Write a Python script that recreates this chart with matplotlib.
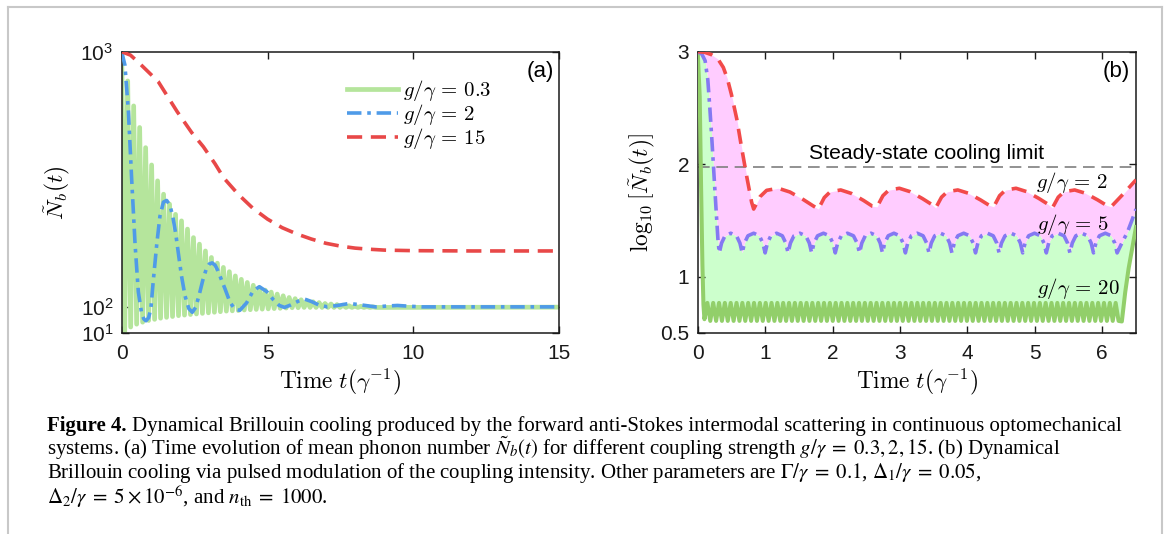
import numpy as np
import matplotlib
matplotlib.use("Agg")
import matplotlib.pyplot as plt
from matplotlib.lines import Line2D

plt.rcParams['font.family'] = ['Liberation Sans', 'DejaVu Sans']
plt.rcParams['mathtext.fontset'] = 'cm'
plt.rcParams['mathtext.rm'] = 'Liberation Sans'
plt.rcParams['mathtext.it'] = 'Liberation Sans:italic'
plt.rcParams['mathtext.bf'] = 'Liberation Sans:bold'

# ======================= panel (a) data =======================
a_xticks = [0, 5, 10, 15]
a_yticks = [10, 100, 1000]
a_yticklabels = [r'$10^1$', r'$10^2$', r'$10^3$']
a_labels = [r'$g/\gamma\,=\,0.3$', r'$g/\gamma\,=\,2$', r'$g/\gamma\,=\,15$']

# g/gamma = 0.3 : fast oscillation, period and successive extrema
g03_period = 0.205
g03_peaks = [1000, 897, 809, 733, 662, 601, 545, 498, 463, 427, 404, 375, 345, 322,
             298, 275, 255, 240, 225, 210, 198, 187, 177, 168, 160, 153, 146, 140,
             134, 130, 126, 122, 119, 116, 113, 111, 109, 107, 105, 104, 103, 102, 101]
g03_troughs = [12, 30, 40, 47, 53, 57, 61, 64, 67, 70, 72, 74, 76, 78, 80, 82, 84, 86,
               87, 88, 90, 91, 92, 93, 94, 95, 96, 97, 98, 98, 99, 99, 99, 99, 99, 99,
               99, 99, 99, 99, 99, 99, 99]
g03_tail_t = [15.0]
g03_tail_v = [100]

# g/gamma = 2
g2_t = [0, 0.11, 0.23, 0.34, 0.46, 0.57, 0.68, 0.76, 0.83, 0.92, 1.0, 1.08, 1.2, 1.31,
        1.43, 1.54, 1.65, 1.75, 1.85, 1.95, 2.05, 2.17, 2.3, 2.42, 2.54, 2.66, 2.78,
        2.9, 3.0, 3.1, 3.2, 3.3, 3.42, 3.54, 3.71, 3.88, 4.05, 4.28, 4.51, 4.72, 4.97,
        5.2, 5.4, 5.58, 5.8, 6.05, 6.28, 6.5, 6.75, 7.05, 7.4, 7.8, 8.2, 8.7, 9.1,
        9.45, 9.9, 10.3, 11.0, 15.0]
g2_v = [1000, 953, 789, 554, 319, 154, 80, 58, 52, 62, 95, 190, 320, 420,
        470, 476, 460, 420, 360, 284, 210, 140, 95, 82, 100, 145, 195,
        235, 252, 256, 248, 228, 196, 165, 118, 92, 89, 115, 158, 172, 155,
        126, 106, 99, 108, 121, 128, 120, 108, 101, 106, 113, 108, 101, 104,
        106, 103, 101, 101, 101]

# g/gamma = 15
g15_t = [0, 0.3, 0.6, 1.25, 1.9, 2.4, 2.8, 3.2, 3.5, 4.0, 4.5, 5.0, 5.5, 6.0, 6.5,
         7.0, 7.5, 8.0, 8.5, 9.0, 10.0, 12.0, 15.0]
g15_v = [1000, 988, 960, 895, 789, 715, 665, 605, 555, 497, 448, 410, 380, 358, 340,
         325, 315, 308, 304, 301, 299, 298, 298]

# ======================= panel (b) data =======================
b_xticks = [0, 1, 2, 3, 4, 5, 6]
b_yticks = [0.5, 1, 2, 3]
b_yticklabels = ['0.5', '1', '2', '3']
steady_limit = 1.97

# g/gamma = 20 (solid green)
g20_start_t = [0, 0.03, 0.05, 0.07, 0.085, 0.10]
g20_start_v = [3.0, 2.6, 1.8, 1.1, 0.75, 0.62]
g20_period = 0.0865
g20_n_periods = 71
g20_peak = 0.765
g20_trough = 0.605
g20_end_t = [6.29, 6.34, 6.39, 6.44, 6.5]
g20_end_v = [0.60, 0.86, 1.07, 1.24, 1.44]

# g/gamma = 5 (purple dash-dot)
g5_start_t = [0, 0.06, 0.11, 0.15, 0.18, 0.21, 0.24, 0.27, 0.30]
g5_start_v = [3.0, 2.98, 2.92, 2.75, 2.5, 2.22, 1.92, 1.62, 1.33]
g5_trough_t = [0.32, 0.66, 1.00, 1.34, 1.69, 2.04, 2.40, 2.74, 3.08, 3.43, 3.77, 4.12,
               4.47, 4.82, 5.17, 5.52, 5.87, 6.22]
g5_trough_v = 1.21
g5_peak_v = 1.385
g5_arc_frac = [0, 0.1, 0.25, 0.5, 0.75, 0.9, 1.0]
g5_arc_level = [0, 0.5, 0.87, 1.0, 0.87, 0.5, 0]
g5_end_t = [6.30, 6.37, 6.44, 6.5]
g5_end_v = [1.31, 1.39, 1.50, 1.60]

# g/gamma = 2 (red dashed)
r2_start_t = [0, 0.1, 0.2, 0.3, 0.38, 0.44, 0.5, 0.58, 0.65, 0.73, 0.8]
r2_start_v = [3.0, 2.995, 2.975, 2.935, 2.86, 2.76, 2.62, 2.40, 2.15, 1.88, 1.66]
r2_trough_t = [0.83, 1.79, 2.66, 3.53, 4.39, 5.26, 6.13]
r2_trough_v = [1.60, 1.60, 1.62, 1.61, 1.62, 1.61, 1.62]
r2_peak_v = [1.785, 1.77, 1.785, 1.77, 1.785, 1.77]
r2_arc_frac = [0, 0.1, 0.2, 0.38, 0.56, 0.77, 0.92, 1.0]
r2_arc_level = [0, 0.6, 0.9, 1.0, 0.82, 0.45, 0.15, 0]
r2_end_t = [6.32, 6.5]
r2_end_v = [1.74, 1.86]

b_labels = [r'$g/\gamma\,=\,2$', r'$g/\gamma\,=\,5$', r'$g/\gamma\,=\,20$']

# ======================= build curves =======================
def osc_curve(t0, period, peaks, troughs):
    tt, vv = [], []
    for k in range(len(peaks)):
        tt += [t0 + k * period, t0 + (k + 0.5) * period]
        vv += [peaks[k], troughs[k]]
    return tt, vv

a_g03_t, a_g03_v = osc_curve(0.0, g03_period, g03_peaks, g03_troughs)
a_g03_t += g03_tail_t
a_g03_v += g03_tail_v

b20_t = list(g20_start_t)
b20_v = list(g20_start_v)
for k in range(g20_n_periods):
    b20_t += [g20_start_t[-1] + (k + 0.5) * g20_period, g20_start_t[-1] + (k + 1) * g20_period]
    b20_v += [g20_peak, g20_trough]
b20_t += g20_end_t
b20_v += g20_end_v

b5_t = list(g5_start_t)
b5_v = list(g5_start_v)
for i in range(len(g5_trough_t) - 1):
    ta, tb = g5_trough_t[i], g5_trough_t[i + 1]
    for f, l in zip(g5_arc_frac[:-1], g5_arc_level[:-1]):
        b5_t.append(ta + f * (tb - ta))
        b5_v.append(g5_trough_v + l * (g5_peak_v - g5_trough_v))
b5_t.append(g5_trough_t[-1]); b5_v.append(g5_trough_v)
b5_t += g5_end_t
b5_v += g5_end_v

b2_t = list(r2_start_t)
b2_v = list(r2_start_v)
for i in range(len(r2_trough_t) - 1):
    ta, tb = r2_trough_t[i], r2_trough_t[i + 1]
    va = r2_trough_v[i]
    for f, l in zip(r2_arc_frac[:-1], r2_arc_level[:-1]):
        b2_t.append(ta + f * (tb - ta))
        b2_v.append(va + l * (r2_peak_v[i] - va))
b2_t.append(r2_trough_t[-1]); b2_v.append(r2_trough_v[-1])
b2_t += r2_end_t
b2_v += r2_end_v

# ======================= figure =======================
W, H = 1167, 534
fig = plt.figure(figsize=(W / 100, H / 100), dpi=100)

def ax_rect(x0, x1, ytop, ybot):
    return [x0 / W, 1 - ybot / H, (x1 - x0) / W, (ybot - ytop) / H]

axA = fig.add_axes(ax_rect(121.7, 559.3, 51.7, 332.7))
axB = fig.add_axes(ax_rect(697.7, 1136.0, 51.7, 332.7))

c_g03 = '#b5e59c'
c_g2 = '#4f9be8'
c_g15 = '#e84848'

axA.plot(a_g03_t, a_g03_v, color=c_g03, lw=3.4, solid_joinstyle='round', zorder=2,
         label=a_labels[0])
axA.plot(g2_t, g2_v, color=c_g2, lw=2.6, ls=(0, (4.0, 1.6, 1.0, 1.6)), zorder=3,
         label=a_labels[1])
axA.plot(g15_t, g15_v, color=c_g15, lw=2.6, ls=(0, (4.2, 2.4)), zorder=4,
         label=a_labels[2])
axA.set_xlim(0, 15)
axA.set_ylim(10, 1000)
axA.set_xticks(a_xticks)
axA.set_yticks(a_yticks)
axA.set_yticklabels(a_yticklabels)
for lab in axA.get_yticklabels():
    lab.set_math_fontfamily('custom')

leg = axA.legend(loc='upper left', bbox_to_anchor=(0.515, 0.907), frameon=False,
                 fontsize=15, handlelength=2.45, handletextpad=0.25,
                 borderpad=0, borderaxespad=0, labelspacing=-0.04)
axA.text(0.987, 0.93, '(a)', transform=axA.transAxes, ha='right', va='center',
         fontsize=16)
axA.set_xlabel(r'$\mathrm{Time}\ t(\gamma^{-1})$', fontsize=16.8, labelpad=2)
axA.set_ylabel(r'$\tilde{N}_b(t)$', fontsize=16.8, labelpad=6)

c_fill_g = '#ccffcc'
c_fill_p = '#ffccff'
c_g20 = '#92cf6a'
c_g5 = '#8479f2'
c_r2 = '#f24a4a'

tg = np.linspace(0, 6.5, 6000)
y20 = np.interp(tg, b20_t, b20_v)
y5 = np.interp(tg, b5_t, b5_v)
y2 = np.interp(tg, b2_t, b2_v)
axB.fill_between(tg, y20, y5, color=c_fill_g, lw=0, zorder=1)
axB.fill_between(tg, y5, y2, color=c_fill_p, lw=0, zorder=1)
axB.axhline(steady_limit, color='#7f7f7f', lw=1.2, ls=(0, (7, 4)), zorder=2)
axB.plot(b20_t, b20_v, color=c_g20, lw=2.9, zorder=3)
axB.plot(b5_t, b5_v, color=c_g5, lw=2.6, ls=(0, (4.0, 1.6, 1.0, 1.6)), zorder=4)
axB.plot(b2_t, b2_v, color=c_r2, lw=2.6, ls=(0, (4.2, 2.4)), zorder=5)
axB.set_xlim(0, 6.5)
axB.set_ylim(0.5, 3)
axB.set_xticks(b_xticks)
axB.set_yticks(b_yticks)
axB.set_yticklabels(b_yticklabels)
axB.text(3.4, steady_limit + 0.04, 'Steady-state cooling limit', ha='center',
         va='bottom', fontsize=15.2)
axB.text(5.55, 1.84, b_labels[0], ha='center', va='center', fontsize=15)
axB.text(5.57, 1.46, b_labels[1], ha='center', va='center', fontsize=15)
axB.text(5.64, 0.89, b_labels[2], ha='center', va='center', fontsize=15)
axB.text(0.987, 0.93, '(b)', transform=axB.transAxes, ha='right', va='center',
         fontsize=16)
axB.set_xlabel(r'$\mathrm{Time}\ t(\gamma^{-1})$', fontsize=16.8, labelpad=2)
axB.set_ylabel(r'$\log_{10}[\tilde{N}_b(t)]$', fontsize=16.8, labelpad=2)

for ax in (axA, axB):
    ax.tick_params(direction='in', top=True, right=True, length=5, width=1.0,
                   labelsize=15, colors='#1a1a1a')
    ax.tick_params(axis='x', pad=8)
    ax.tick_params(axis='y', pad=6)
    for s in ax.spines.values():
        s.set_linewidth(1.1)
        s.set_color('#1a1a1a')

# ---------------- caption ----------------
cap_font = 'Liberation Serif'
cap_size = 15.0
x0 = 47 / W
bl = [431, 455, 478, 504]
fig.canvas.draw()
r = fig.canvas.get_renderer()
t_bold = fig.text(x0, 1 - bl[0] / H, 'Figure 4.', fontsize=cap_size, family=cap_font,
                  weight='bold', va='baseline')
bb = t_bold.get_window_extent(renderer=r)
fig.text(bb.x1 / W + 5 / W, 1 - bl[0] / H,
         'Dynamical Brillouin cooling produced by the forward anti-Stokes intermodal '
         'scattering in continuous optomechanical',
         fontsize=cap_size, family=cap_font, va='baseline')
lines = [
    r'systems. (a) Time evolution of mean phonon number $\tilde{N}_b(t)$ for different '
    r'coupling strength $g/\gamma\;=\;0.3, 2, 15$. (b) Dynamical',
    r'Brillouin cooling via pulsed modulation of the coupling intensity. Other parameters '
    r'are $\Gamma/\gamma\;=\;0.1$, $\Delta_1/\gamma\;=\;0.05$,',
    r'$\Delta_2/\gamma\;=\;5\times10^{-6}$, and $n_{\mathrm{th}}\;=\;1000$.',
]
for i, s in enumerate(lines):
    t = fig.text(x0, 1 - bl[i + 1] / H, s, fontsize=cap_size, family=cap_font,
                 va='baseline')
    t.set_math_fontfamily('stix')

# ---------------- page border ----------------
bc = '#c8c8c8'
fig.add_artist(Line2D([8 / W, 1162 / W], [1 - 6.5 / H, 1 - 6.5 / H], color=bc, lw=1.5,
                      transform=fig.transFigure))
fig.add_artist(Line2D([8 / W, 8 / W], [1 - 6.5 / H, 0], color=bc, lw=1.5,
                      transform=fig.transFigure))
fig.add_artist(Line2D([1162 / W, 1162 / W], [1 - 6.5 / H, 0], color=bc, lw=1.5,
                      transform=fig.transFigure))

fig.savefig('out.png', dpi=100)
